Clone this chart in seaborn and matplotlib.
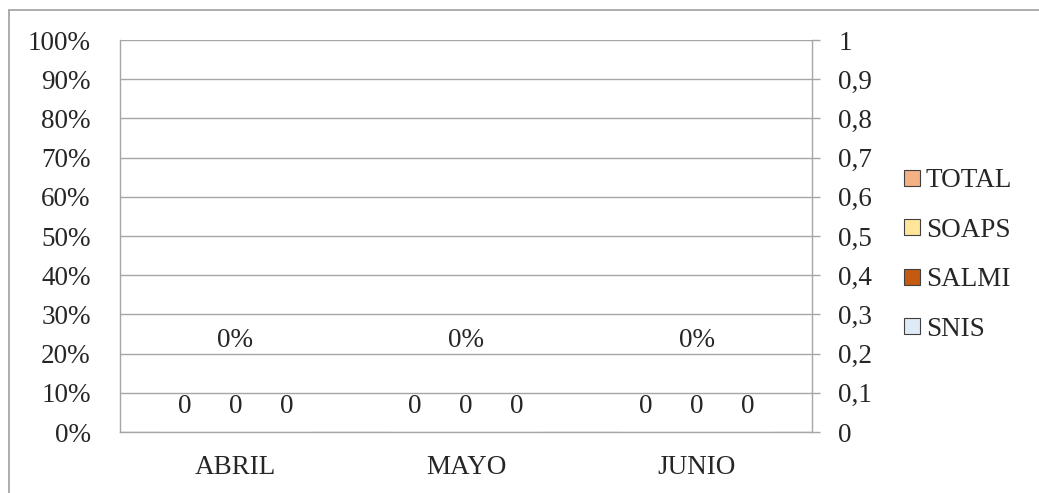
import matplotlib.pyplot as plt
import pandas as pd
import seaborn as sns
from matplotlib.lines import Line2D
from matplotlib.ticker import FuncFormatter

meses = ['ABRIL', 'MAYO', 'JUNIO']
total = [0, 0, 0]
soaps = [0, 0, 0]
salmi = [0, 0, 0]
snis = [0, 0, 0]
series = ['SOAPS', 'SALMI', 'SNIS']
colores = {'TOTAL': '#F4B183', 'SOAPS': '#FFE699', 'SALMI': '#C55A11', 'SNIS': '#DEEBF7'}

sns.set_style('white')
plt.rcParams['font.family'] = ['Liberation Serif', 'DejaVu Serif']
fs = 19.5
gris = '#A6A6A6'

df_total = pd.DataFrame({'mes': meses, 'valor': total})
df_serie = pd.DataFrame({
    'mes': meses * 3,
    'serie': [s for s in series for _ in meses],
    'valor': soaps + salmi + snis,
})

fig = plt.figure(figsize=(10.39, 4.93), dpi=100)
ax = fig.add_axes([120/1039, 61/493, 692/1039, 392/493])

# TOTAL on the percent axis
sns.barplot(data=df_total, x='mes', y='valor', color=colores['TOTAL'], width=0.2,
            errorbar=None, ax=ax)
ax.set_ylim(0, 1)
ax.set_yticks([i/10 for i in range(11)])
ax.yaxis.set_major_formatter(FuncFormatter(lambda v, p: f'{v*100:.0f}%'))
ax.grid(axis='y', color=gris, linewidth=1)
ax.set_axisbelow(True)
ax.set_xlim(-0.5, 2.5)
ax.set_xlabel('')
ax.set_ylabel('')
ax.tick_params(axis='y', length=0, pad=21, labelsize=fs)
ax.tick_params(axis='x', length=0, pad=16.5, labelsize=fs)
for s in ['top', 'right']:
    ax.spines[s].set_visible(False)
for s in ['left', 'bottom']:
    ax.spines[s].set_color(gris)
    ax.spines[s].set_linewidth(1)
ax.bar_label(ax.containers[0], labels=['0%'] * len(meses), padding=57, fontsize=fs)

# series on the secondary axis
ax2 = ax.twinx()
sns.barplot(data=df_serie, x='mes', y='valor', hue='serie', hue_order=series,
            palette=colores, width=0.663, errorbar=None, legend=False, ax=ax2)
ax2.set_ylim(0, 1)
ax2.set_xlim(-0.5, 2.5)
ax2.set_yticks([i/10 for i in range(11)])
ax2.yaxis.set_major_formatter(FuncFormatter(
    lambda v, p: '0' if v == 0 else ('1' if abs(v - 1) < 1e-9 else f'{v:.1f}'.replace('.', ','))))
ax2.set_ylabel('')
ax2.tick_params(axis='y', length=6, width=1, color=gris, pad=13, labelsize=fs)
for s in ['top', 'left', 'bottom']:
    ax2.spines[s].set_visible(False)
ax2.spines['right'].set_color(gris)
ax2.spines['right'].set_linewidth(1)
for c in ax2.containers:
    ax2.bar_label(c, labels=['0'] * len(meses), padding=9.5, fontsize=fs)

handles = [Line2D([], [], linestyle='none', marker='s', markersize=11,
                  markerfacecolor=colores[k], markeredgecolor='#404040', markeredgewidth=0.8)
           for k in ['TOTAL'] + series]
fig.legend(handles, ['TOTAL'] + series, loc='center left', bbox_to_anchor=(892/1039, 1 - 255/493),
           frameon=False, fontsize=fs, handlelength=0.7, handletextpad=0.15, labelspacing=0.9,
           borderaxespad=0)

# outer chart border (top and left visible)
fig.add_artist(Line2D([9/1039, 1], [1 - 10/493, 1 - 10/493], color='#A0A0A0', linewidth=1.2))
fig.add_artist(Line2D([9/1039, 9/1039], [0, 1 - 10/493], color='#A0A0A0', linewidth=1.2))

fig.savefig('out.png', dpi=100)
